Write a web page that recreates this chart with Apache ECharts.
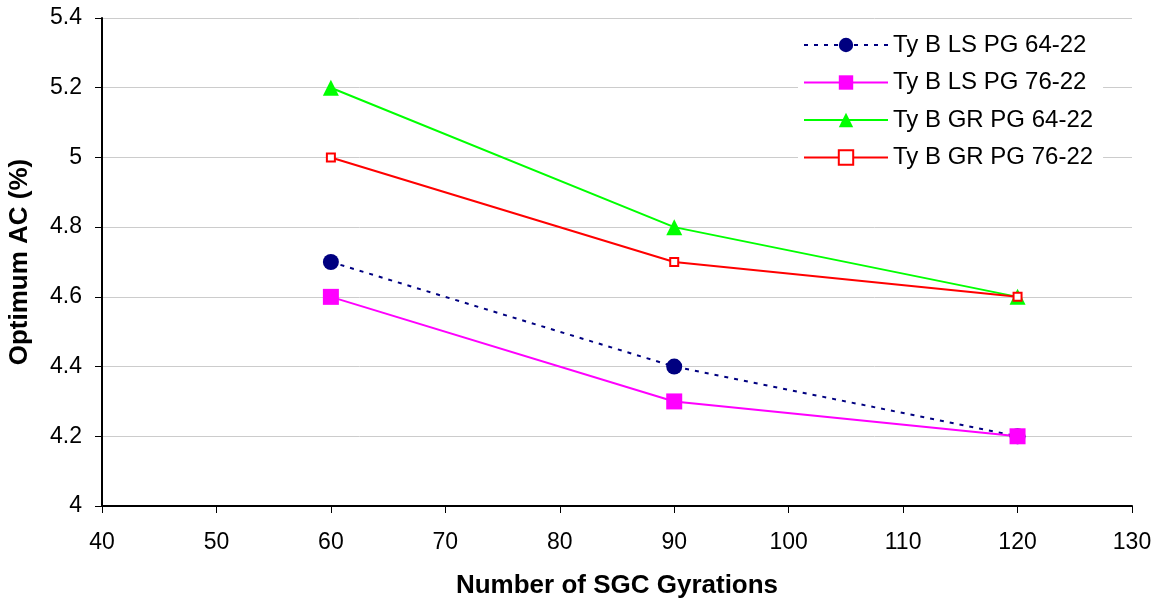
<!DOCTYPE html>
<html>
<head>
<meta charset="utf-8">
<script src="https://cdn.jsdelivr.net/npm/echarts@6/dist/echarts.min.js"></script>
<style>
  html, body { margin: 0; padding: 0; background: #fff; }
  #chart { width: 1160px; height: 605px; }
</style>
</head>
<body>
<div id="chart"></div>
<script>
// Gyration levels and optimum asphalt content per mix
const gyrations = [60, 90, 120];
const lsPg6422 = [4.7, 4.4, 4.2];
const lsPg7622 = [4.6, 4.3, 4.2];
const grPg6422 = [5.2, 4.8, 4.6];
const grPg7622 = [5.0, 4.7, 4.6];
const seriesNames = ['Ty B LS PG 64-22', 'Ty B LS PG 76-22', 'Ty B GR PG 64-22', 'Ty B GR PG 76-22'];

const pair = vals => gyrations.map((g, i) => [g, vals[i]]);
const font = 'Arial, "Liberation Sans", sans-serif';

const chart = echarts.init(document.getElementById('chart'), null, { renderer: 'canvas' });
chart.setOption({
  animation: false,
  backgroundColor: '#fff',
  grid: {
    left: 102, top: 18, right: 28, bottom: 99,
    containLabel: false,
    outerBoundsMode: 'none'
  },
  legend: {
    orient: 'vertical',
    left: 798,
    top: 28,
    itemWidth: 84,
    itemHeight: 18,
    itemGap: 13.5,
    backgroundColor: '#fff',
    padding: [5, 10, 5, 5],
    textStyle: { fontFamily: font, fontSize: 24, color: '#000' },
    data: seriesNames
  },
  xAxis: {
    type: 'value',
    min: 40, max: 130, interval: 10,
    name: 'Number of SGC Gyrations',
    nameLocation: 'middle',
    nameGap: 67,
    nameTextStyle: { fontFamily: font, fontSize: 26, fontWeight: 'bold', color: '#000' },
    axisLine: { lineStyle: { color: '#000', width: 2 } },
    axisTick: { show: true, length: 7, lineStyle: { color: '#000', width: 1 } },
    axisLabel: { fontFamily: font, fontSize: 23, color: '#000', margin: 25 },
    splitLine: { show: false }
  },
  yAxis: {
    type: 'value',
    min: 4, max: 5.4, interval: 0.2,
    name: 'Optimum AC (%)',
    nameLocation: 'middle',
    nameGap: 69,
    nameRotate: 90,
    nameTextStyle: { fontFamily: font, fontSize: 26, fontWeight: 'bold', color: '#000' },
    axisLine: { show: true, lineStyle: { color: '#000', width: 2 } },
    axisTick: { show: true, length: 7, lineStyle: { color: '#000', width: 1 } },
    axisLabel: {
      fontFamily: font, fontSize: 23, color: '#000', margin: 20,
      formatter: v => String(Math.round(v * 10) / 10)
    },
    splitLine: { show: true, lineStyle: { color: '#cccccc', width: 1 } }
  },
  series: [
    {
      name: seriesNames[0], type: 'line', data: pair(lsPg6422),
      symbol: 'circle', symbolSize: 16,
      lineStyle: { color: '#000080', width: 2, type: [4, 6] },
      itemStyle: { color: '#000080' }
    },
    {
      name: seriesNames[1], type: 'line', data: pair(lsPg7622),
      symbol: 'rect', symbolSize: 16,
      lineStyle: { color: '#ff00ff', width: 2 },
      itemStyle: { color: '#ff00ff' }
    },
    {
      name: seriesNames[2], type: 'line', data: pair(grPg6422),
      symbol: 'triangle', symbolSize: 16,
      lineStyle: { color: '#00ff00', width: 2 },
      itemStyle: { color: '#00ff00' }
    },
    {
      name: seriesNames[3], type: 'line', data: pair(grPg7622),
      symbol: 'rect', symbolSize: 8,
      lineStyle: { color: '#ff0000', width: 2 },
      itemStyle: { color: '#fff', borderColor: '#ff0000', borderWidth: 2 }
    }
  ]
});
</script>
</body>
</html>
